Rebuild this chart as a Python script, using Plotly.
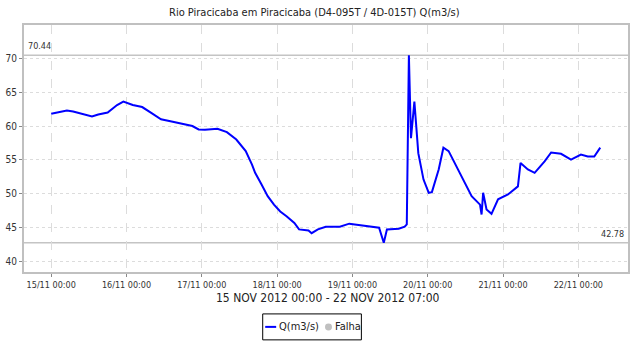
import plotly.graph_objects as go

# Discharge series, Rio Piracicaba em Piracicaba
times = [
    "2012-11-15 00:00", "2012-11-15 05:00", "2012-11-15 07:00", "2012-11-15 10:00",
    "2012-11-15 13:00", "2012-11-15 15:00", "2012-11-15 18:00", "2012-11-15 21:00",
    "2012-11-15 23:00", "2012-11-16 02:00", "2012-11-16 05:00", "2012-11-16 08:00",
    "2012-11-16 11:00", "2012-11-16 14:00", "2012-11-16 17:30", "2012-11-16 21:00",
    "2012-11-16 23:00", "2012-11-17 01:00", "2012-11-17 05:00", "2012-11-17 08:00",
    "2012-11-17 11:00", "2012-11-17 14:00", "2012-11-17 16:00", "2012-11-17 17:00",
    "2012-11-17 19:00", "2012-11-17 21:00", "2012-11-17 23:00", "2012-11-18 01:00",
    "2012-11-18 03:00", "2012-11-18 05:30", "2012-11-18 07:00", "2012-11-18 10:00",
    "2012-11-18 11:00", "2012-11-18 13:00", "2012-11-18 15:30", "2012-11-18 18:00",
    "2012-11-18 20:00", "2012-11-18 23:00", "2012-11-19 04:00", "2012-11-19 08:30",
    "2012-11-19 10:00", "2012-11-19 11:00", "2012-11-19 14:45", "2012-11-19 16:40",
    "2012-11-19 17:20", "2012-11-19 18:00", "2012-11-19 18:40", "2012-11-19 19:45",
    "2012-11-19 21:00", "2012-11-19 22:40", "2012-11-20 00:20", "2012-11-20 01:20",
    "2012-11-20 03:30", "2012-11-20 05:00", "2012-11-20 06:40", "2012-11-20 09:45",
    "2012-11-20 12:00", "2012-11-20 14:00", "2012-11-20 16:40", "2012-11-20 17:10",
    "2012-11-20 17:40", "2012-11-20 18:45", "2012-11-20 20:20", "2012-11-20 22:25",
    "2012-11-21 01:35", "2012-11-21 04:45", "2012-11-21 05:35", "2012-11-21 07:55",
    "2012-11-21 10:05", "2012-11-21 13:15", "2012-11-21 15:20", "2012-11-21 18:30",
    "2012-11-21 21:40", "2012-11-22 00:50", "2012-11-22 03:00", "2012-11-22 05:05",
    "2012-11-22 06:40", "2012-11-22 07:00",
]
discharge = [
    61.8, 62.3, 62.15, 61.8,
    61.4, 61.7, 62.0, 63.1,
    63.6, 63.1, 62.8, 61.9,
    61.0, 60.7, 60.3, 60.0,
    59.5, 59.45, 59.6, 59.1,
    58.0, 56.3, 54.3, 53.1,
    51.4, 49.65, 48.4, 47.4,
    46.7, 45.7, 44.75, 44.6,
    44.2, 44.75, 45.15, 45.1,
    45.15, 45.6, 45.3, 45.0,
    42.78, 44.75, 44.85, 45.15,
    45.5, 70.44, 58.2, 63.6,
    56.0, 52.1, 50.15, 50.25,
    53.6, 56.8, 56.3, 53.6,
    51.4, 49.65, 48.4, 46.95,
    50.15, 47.7, 47.05, 49.2,
    49.9, 51.1, 54.55, 53.6,
    53.1, 54.8, 56.1, 55.9,
    55.05, 55.8, 55.5, 55.5,
    56.6, 56.8,
]
q_max = 70.44
q_min = 42.78

tick_days = ["2012-11-%02d" % d for d in range(15, 23)]
tick_labels = ["%02d/11 00:00" % d for d in range(15, 23)]
y_ticks = [40, 45, 50, 55, 60, 65, 70]

FONT = "DejaVu Sans Condensed"
GREY_TXT = "#333333"

fig = go.Figure()
fig.add_trace(go.Scatter(
    x=times, y=discharge, mode="lines",
    line=dict(color="#0000ff", width=2),
    name="Q(m3/s)", showlegend=False,
))

# Max / min reference lines with their labels
for val in (q_max, q_min):
    fig.add_shape(type="line", xref="paper", x0=0, x1=1, yref="y", y0=val, y1=val,
                  line=dict(color="#c4c4c4", width=1.5), layer="below")
fig.add_annotation(xref="paper", x=0.004, yref="y", y=q_max, text="%.2f" % q_max,
                   showarrow=False, xanchor="left", yanchor="bottom", yshift=2,
                   font=dict(family=FONT, size=9, color=GREY_TXT))
fig.add_annotation(xref="paper", x=0.996, yref="y", y=q_min, text="%.2f" % q_min,
                   showarrow=False, xanchor="right", yanchor="bottom", yshift=2,
                   font=dict(family=FONT, size=9, color=GREY_TXT))

# Title and period caption
fig.add_annotation(xref="paper", x=(315 - 24) / 606, yref="paper", y=1.0, yshift=13,
                   text="Rio Piracicaba em Piracicaba (D4-095T / 4D-015T) Q(m3/s)",
                   showarrow=False, xanchor="center", yanchor="middle",
                   font=dict(family=FONT, size=11, color="#222222"))
fig.add_annotation(xref="paper", x=(329 - 24) / 606, yref="paper", y=0, yshift=-26,
                   text="15 NOV 2012 00:00 - 22 NOV 2012 07:00",
                   showarrow=False, xanchor="center", yanchor="middle",
                   font=dict(family=FONT, size=12, color="#222222"))

# Legend box: line sample for the series, grey dot for gaps
def px_x(px):
    return (px - 24) / 606

def px_y(py):
    return (272.5 - py) / 247.5

fig.add_shape(type="rect", xref="paper", yref="paper",
              x0=px_x(263.5), x1=px_x(362.5), y0=px_y(340.5), y1=px_y(314.5),
              line=dict(color="#000000", width=1))
fig.add_shape(type="line", xref="paper", yref="paper",
              x0=px_x(266), x1=px_x(277), y0=px_y(327.5), y1=px_y(327.5),
              line=dict(color="#0000ff", width=2))
fig.add_annotation(xref="paper", yref="paper", x=px_x(278), y=px_y(327.5),
                   text="Q(m3/s)", showarrow=False, xanchor="left", yanchor="middle",
                   font=dict(family=FONT, size=11, color="#222222"))
fig.add_shape(type="circle", xref="paper", yref="paper",
              x0=px_x(326), x1=px_x(333), y0=px_y(331), y1=px_y(324),
              fillcolor="#c0c0c0", line=dict(color="#c0c0c0", width=0))
fig.add_annotation(xref="paper", yref="paper", x=px_x(334), y=px_y(327.5),
                   text="Falha", showarrow=False, xanchor="left", yanchor="middle",
                   font=dict(family=FONT, size=11, color="#222222"))

fig.update_layout(
    width=632, height=347,
    margin=dict(l=24, r=2, t=25, b=75),
    paper_bgcolor="white", plot_bgcolor="white",
    font=dict(family=FONT, size=9, color=GREY_TXT),
    showlegend=False,
)
fig.update_xaxes(
    type="date",
    range=["2012-11-14 15:20", "2012-11-22 15:50"],
    tickvals=tick_days, ticktext=tick_labels,
    tickfont=dict(family=FONT, size=9, color=GREY_TXT),
    ticks="outside", ticklen=3, tickcolor="#888888",
    showgrid=True, gridcolor="#dcdcdc", gridwidth=1, griddash="dash",
    showline=True, linecolor="#c0c0c0", linewidth=2, mirror=True,
    zeroline=False,
)
fig.update_yaxes(
    range=[38.47, 74.9],
    tickvals=y_ticks,
    tickfont=dict(family=FONT, size=10, color=GREY_TXT),
    ticks="outside", ticklen=3, tickcolor="#888888",
    showgrid=True, gridcolor="#dcdcdc", gridwidth=1, griddash="dot",
    showline=True, linecolor="#c0c0c0", linewidth=2, mirror=True,
    zeroline=False,
)

fig.write_html("out.html")
